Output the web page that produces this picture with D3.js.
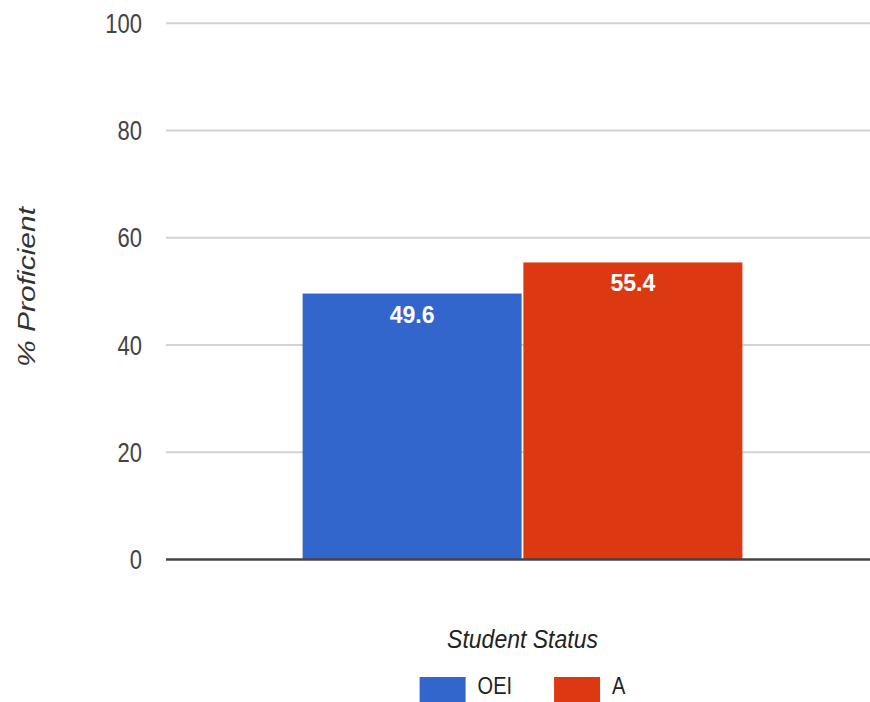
<!DOCTYPE html>
<html>
<head>
<meta charset="utf-8">
<script src="https://cdn.jsdelivr.net/npm/d3@7"></script>
<style>
  html, body { margin: 0; padding: 0; background: #fff; }
  svg { display: block; }
  text { font-family: "Liberation Sans", Arial, sans-serif; }
</style>
</head>
<body>
<svg id="chart" width="870" height="702"></svg>
<script>
const categories = [""];
const seriesNames = ["OEI", "A"];
const seriesValues = [49.6, 55.4];
const seriesColors = ["#3366cc", "#dc3912"];
const yTicks = [0, 20, 40, 60, 80, 100];
const yTitle = "% Proficient";
const xTitle = "Student Status";

const svg = d3.select("#chart");
const W = 870, H = 702;
const plot = { left: 166, right: 879, top: 23.3, bottom: 559.5 };

const y = d3.scaleLinear().domain([0, 100]).range([plot.bottom, plot.top]);
const x0 = d3.scaleBand().domain(categories).range([plot.left, plot.right])
  .paddingInner(0.237).paddingOuter(0.237);
const x1 = d3.scaleBand().domain(seriesNames).range([0, x0.bandwidth()]).paddingInner(0.008);

// gridlines
const yAxis = d3.axisLeft(y).tickValues(yTicks).tickSize(0).tickPadding(0);
const gGrid = svg.append("g");
gGrid.selectAll("line").data(yTicks.filter(t => t !== 0)).join("line")
  .attr("x1", plot.left).attr("x2", W)
  .attr("y1", d => y(d)).attr("y2", d => y(d))
  .attr("stroke", "#d2d2d2").attr("stroke-width", 2);

// tick labels
const gy = svg.append("g");
gy.selectAll("text").data(yTicks).join("text")
  .attr("transform", d => `translate(142,${y(d)}) scale(1,1.22)`)
  .attr("text-anchor", "end")
  .attr("dy", "0.36em")
  .attr("font-size", 22)
  .attr("fill", "#444")
  .text(d => yAxis.tickFormat() ? yAxis.tickFormat()(d) : d);

// bars
const gBars = svg.append("g");
categories.forEach(cat => {
  gBars.selectAll("rect").data(seriesNames.map((s, i) => ({ s, v: seriesValues[i], c: seriesColors[i] })))
    .join("rect")
    .attr("x", d => x0(cat) + x1(d.s))
    .attr("y", d => y(d.v))
    .attr("width", x1.bandwidth())
    .attr("height", d => y(0) - y(d.v))
    .attr("fill", d => d.c);
  gBars.selectAll("text").data(seriesNames.map((s, i) => ({ s, v: seriesValues[i] })))
    .join("text")
    .attr("transform", d => `translate(${x0(cat) + x1(d.s) + x1.bandwidth() / 2},${y(d.v) + 29}) scale(1.05,1.05)`)
    .attr("text-anchor", "middle")
    .attr("font-size", 22)
    .attr("font-weight", "bold")
    .attr("fill", "#fff")
    .text(d => d3.format(".1f")(d.v));
});

// baseline
svg.append("line")
  .attr("x1", plot.left).attr("x2", W)
  .attr("y1", y(0)).attr("y2", y(0))
  .attr("stroke", "#444").attr("stroke-width", 2.5);

// y title
svg.append("text")
  .attr("transform", `translate(35,287) scale(1,1.25) rotate(-90)`)
  .attr("text-anchor", "middle")
  .attr("font-size", 24)
  .attr("font-style", "italic")
  .attr("fill", "#333")
  .text(yTitle);

// x title / legend title
const cx = (plot.left + plot.right) / 2;
svg.append("text")
  .attr("transform", `translate(${cx},648) scale(1,1.12)`)
  .attr("text-anchor", "middle")
  .attr("font-size", 23)
  .attr("font-style", "italic")
  .attr("fill", "#222")
  .text(xTitle);

// legend
const sw = 46, gapText = 12, gapItem = 42, fs = 20;
const gLeg = svg.append("g");
const items = gLeg.selectAll("g").data(seriesNames).join("g");
items.append("rect")
  .attr("width", sw).attr("height", 30).attr("y", 677)
  .attr("fill", (d, i) => seriesColors[i]);
items.append("text")
  .attr("font-size", fs)
  .attr("fill", "#222")
  .text(d => d);
// measure and place
let widths = [];
items.each(function () {
  widths.push(d3.select(this).select("text").node().getComputedTextLength());
});
const total = widths.reduce((a, w) => a + sw + gapText + w, 0) + gapItem * (widths.length - 1);
let xp = cx - total / 2;
items.each(function (d, i) {
  const g = d3.select(this);
  g.select("rect").attr("x", xp);
  g.select("text").attr("transform", `translate(${xp + sw + gapText},694) scale(1,1.2)`);
  xp += sw + gapText + widths[i] + gapItem;
});
</script>
</body>
</html>
